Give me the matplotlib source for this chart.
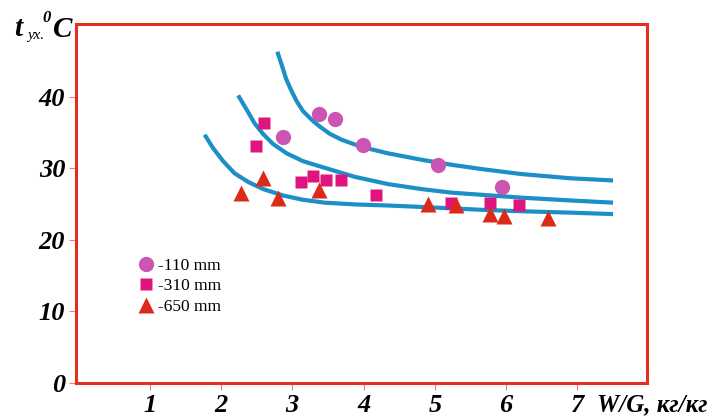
import matplotlib
matplotlib.use("Agg")
import matplotlib.pyplot as plt

# measured points
x_110 = [2.87, 3.37, 3.60, 3.99, 5.05, 5.94]
y_110 = [34.4, 37.6, 36.9, 33.3, 30.4, 27.4]

x_310 = [2.49, 2.60, 3.12, 3.29, 3.47, 3.69, 4.18, 5.23, 5.78, 6.18]
y_310 = [33.1, 36.3, 28.1, 28.9, 28.3, 28.3, 26.2, 25.2, 25.2, 24.9]

x_650 = [2.28, 2.59, 2.80, 3.38, 4.90, 5.30, 5.78, 5.97, 6.59]
y_650 = [26.5, 28.7, 25.9, 26.9, 25.0, 24.9, 23.6, 23.4, 23.1]

# fitted curves
cx_top = [2.79, 2.85, 2.91, 2.98, 3.06, 3.15, 3.27, 3.39, 3.53, 3.69, 3.97,
          4.34, 4.81, 5.23, 5.65, 6.21, 6.91, 7.50]
cy_top = [46.3, 44.5, 42.6, 41.0, 39.4, 38.0, 36.8, 35.8, 34.8, 34.0, 33.0,
          32.1, 31.2, 30.5, 29.9, 29.2, 28.6, 28.3]

cx_mid = [2.24, 2.36, 2.47, 2.59, 2.73, 2.92, 3.15, 3.41, 3.88, 4.34, 4.81,
          5.23, 5.65, 6.21, 6.91, 7.50]
cy_mid = [40.2, 38.2, 36.3, 34.8, 33.4, 32.1, 31.0, 30.2, 28.8, 27.8, 27.1,
          26.6, 26.3, 25.9, 25.5, 25.2]

cx_bot = [1.77, 1.89, 2.03, 2.19, 2.38, 2.59, 2.87, 3.15, 3.45, 3.88, 4.34,
          4.81, 5.23, 5.65, 6.21, 6.91, 7.50]
cy_bot = [34.7, 32.8, 31.0, 29.3, 28.1, 27.1, 26.2, 25.6, 25.2, 24.95, 24.8,
          24.6, 24.4, 24.2, 24.0, 23.8, 23.6]

xticks = [1, 2, 3, 4, 5, 6, 7]
yticks = [0, 10, 20, 30, 40]

red = "#e2301f"
blue = "#1b8fc6"
serif = "Liberation Serif"

fig = plt.figure(figsize=(7.2, 4.18), dpi=100)
ax = fig.add_axes([0.106, 0.084, 0.792, 0.859])

for cx, cy in [(cx_top, cy_top), (cx_mid, cy_mid), (cx_bot, cy_bot)]:
    ax.plot(cx, cy, color=blue, lw=3, solid_capstyle="butt",
            solid_joinstyle="round", zorder=2)

ax.plot(x_110, y_110, "o", color="#cc55b4", ms=11, mec="none", label="-110 mm", zorder=3)
ax.plot(x_310, y_310, "s", color="#e0147f", ms=9, mec="none", label="-310 mm", zorder=3)
ax.plot(x_650, y_650, "^", color="#dc2a1a", ms=11, mec="none", label="-650 mm", zorder=3)

ax.set_xlim(-0.03, 7.97)
ax.set_ylim(0, 50.2)
ax.set_xticks(xticks)
ax.set_yticks(yticks)
for sp in ax.spines.values():
    sp.set_color(red)
    sp.set_linewidth(2.2)
ax.tick_params(direction="out", length=5, width=0.8, color="#f08070", pad=3)
for lab in ax.get_xticklabels() + ax.get_yticklabels():
    lab.set_fontfamily(serif)
    lab.set_fontweight("bold")
    lab.set_fontstyle("italic")
    lab.set_fontsize(19)

leg = ax.legend(loc="upper left", bbox_to_anchor=(129 / 720, 1 - 249 / 418),
                bbox_transform=fig.transFigure, frameon=False, numpoints=1,
                handlelength=1.0, handletextpad=0.15, labelspacing=0.25,
                borderpad=0, prop={"family": serif, "size": 12.5})

# axis labels
fig.text(597 / 720, 1 - 411 / 418, "W/G, кг/кг", family=serif, weight="bold",
         style="italic", size=18)
fig.text(14 / 720, 1 - 36 / 418, "t", family=serif, weight="bold", style="italic", size=21)
fig.text(27 / 720, 1 - 39 / 418, "ух.", family=serif, style="italic", size=11)
fig.text(42 / 720, 1 - 22 / 418, "0", family=serif, weight="bold", style="italic", size=12)
fig.text(53 / 720, 1 - 37 / 418, "C", family=serif, weight="bold", style="italic", size=21)

fig.savefig("out.png", dpi=100)
